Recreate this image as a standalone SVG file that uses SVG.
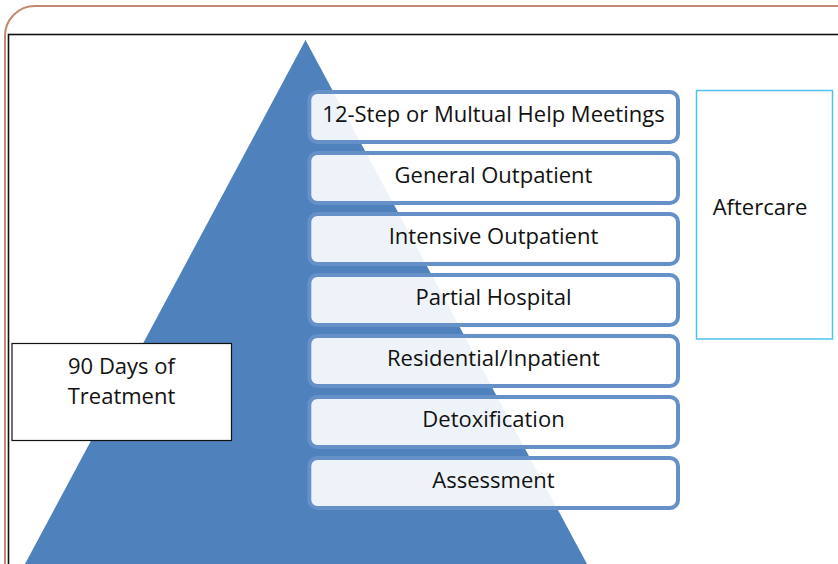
<svg xmlns="http://www.w3.org/2000/svg" width="838" height="564" viewBox="0 0 838 564">
<style>
.t{font-family:"Open Sans","Liberation Sans",sans-serif;font-size:22px;fill:#111;text-anchor:middle}
.step{fill:#ffffff;fill-opacity:0.9;stroke:#6690c8;stroke-width:4}
</style>
<rect width="838" height="564" fill="#ffffff"/>
<rect x="5" y="6" width="900" height="640" rx="30" ry="30" fill="none" stroke="#c08a70" stroke-width="2"/>
<rect x="8.5" y="34.5" width="900" height="640" fill="none" stroke="#111" stroke-width="1.6"/>
<polygon id="pyramid" points="305.5,40 25,564 587,564" fill="#4f81bd"/>
<g id="connectors"></g>
<g id="n1"><rect class="step" x="309.3" y="92" width="368.7" height="50" rx="8"/><text class="t" x="493.5" y="122">12-Step or Multual Help Meetings</text></g>
<g id="n2"><rect class="step" x="309.3" y="153" width="368.7" height="50" rx="8"/><text class="t" x="493.5" y="183">General Outpatient</text></g>
<g id="n3"><rect class="step" x="309.3" y="214" width="368.7" height="50" rx="8"/><text class="t" x="493.5" y="244">Intensive Outpatient</text></g>
<g id="n4"><rect class="step" x="309.3" y="275" width="368.7" height="50" rx="8"/><text class="t" x="493.5" y="305">Partial Hospital</text></g>
<g id="n5"><rect class="step" x="309.3" y="336" width="368.7" height="50" rx="8"/><text class="t" x="493.5" y="366">Residential/Inpatient</text></g>
<g id="n6"><rect class="step" x="309.3" y="397" width="368.7" height="50" rx="8"/><text class="t" x="493.5" y="427">Detoxification</text></g>
<g id="n7"><rect class="step" x="309.3" y="458" width="368.7" height="50" rx="8"/><text class="t" x="493.5" y="488">Assessment</text></g>
<g id="aftercare"><rect x="696.5" y="90.5" width="136" height="248.5" fill="#ffffff" stroke="#4fc3f0" stroke-width="1.5"/><text class="t" x="760" y="215">Aftercare</text></g>
<g id="days"><rect x="12" y="343.5" width="219.5" height="97" fill="#ffffff" stroke="#111" stroke-width="1.2"/><text class="t" x="121.5" y="374">90 Days of</text><text class="t" x="121.5" y="404">Treatment</text></g>
</svg>
